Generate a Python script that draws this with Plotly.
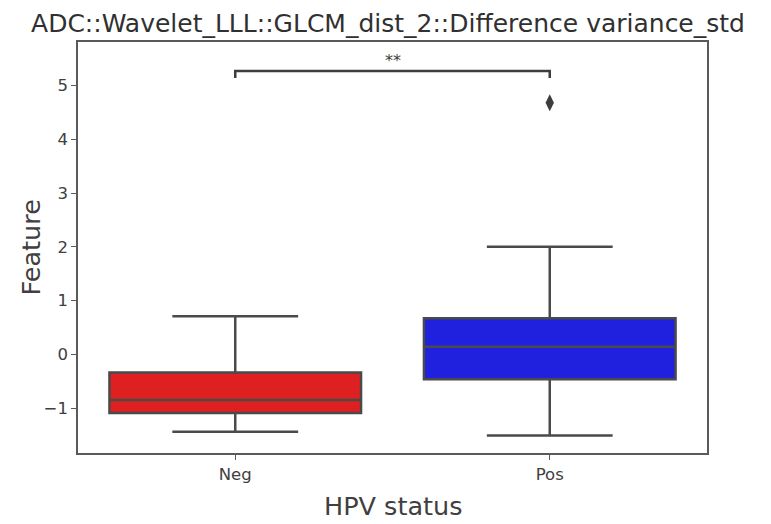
import plotly.graph_objects as go

categories = ["Neg", "Pos"]
q1 = [-1.09, -0.465]
median = [-0.85, 0.14]
q3 = [-0.34, 0.67]
lower_whisker = [-1.44, -1.51]
upper_whisker = [0.71, 2.0]
box_colors = ["#df2020", "#2020df"]
outlier_x = ["Pos"]
outlier_y = [4.68]
bracket_x = ["Neg", "Neg", "Pos", "Pos"]
bracket_y = [5.14, 5.27, 5.27, 5.14]
sig_label = "**"
y_ticks = [-1, 0, 1, 2, 3, 4, 5]

line_col = "#4a4a4a"
font_fam = "DejaVu Sans"

# page body has an 8px margin, so the figure is drawn 8px in from the window edge
OFF = 8
W, H = 771 - OFF, 524 - OFF
L, T = 78 - OFF, 42 - OFF
pw, ph = 629, 411
R, B = W - L - pw, H - T - ph

fig = go.Figure()
for i, c in enumerate(categories):
    fig.add_trace(go.Box(
        x=[c], q1=[q1[i]], median=[median[i]], q3=[q3[i]],
        lowerfence=[lower_whisker[i]], upperfence=[upper_whisker[i]],
        fillcolor=box_colors[i], line=dict(color=line_col, width=2.5),
        width=0.8, whiskerwidth=0.5, boxpoints=False, showlegend=False,
        hoverinfo="skip",
    ))

fig.add_trace(go.Scatter(
    x=outlier_x, y=outlier_y, mode="markers",
    marker=dict(symbol="diamond-tall", size=12, color="#3d3d3d",
                line=dict(width=0)),
    showlegend=False, hoverinfo="skip",
))

fig.add_trace(go.Scatter(
    x=bracket_x, y=bracket_y, mode="lines",
    line=dict(color="#3d3d3d", width=2.5),
    showlegend=False, hoverinfo="skip",
))

fig.add_annotation(x=0.5, y=max(bracket_y), xref="x", yref="y", text=sig_label,
                   showarrow=False, yanchor="bottom", yshift=-1,
                   font=dict(family=font_fam, size=16, color="#3d3d3d"))

# axis titles
fig.add_annotation(x=0.5, y=-53 / ph, xref="paper", yref="paper", text="HPV status",
                   showarrow=False, xanchor="center", yanchor="middle",
                   font=dict(family=font_fam, size=25.5, color="#404040"))
fig.add_annotation(x=-48 / pw, y=0.5, xref="paper", yref="paper", text="Feature",
                   showarrow=False, xanchor="center", yanchor="middle", textangle=-90,
                   font=dict(family=font_fam, size=25.5, color="#404040"))

fig.update_layout(
    width=W, height=H,
    margin=dict(l=L, r=R, t=T, b=B, autoexpand=False),
    paper_bgcolor="white", plot_bgcolor="white",
    font=dict(family=font_fam, color="#404040"),
    title=dict(text="ADC::Wavelet_LLL::GLCM_dist_2::Difference variance_std",
               x=(388 - OFF) / W, xanchor="center", y=1 - (23 - OFF) / H,
               yanchor="middle",
               font=dict(family=font_fam, size=25, color="#303030")),
)

fig.update_xaxes(
    categoryorder="array", categoryarray=categories, automargin=False,
    range=[-0.5, 1.5], showline=True, linecolor="#5a5a5a", linewidth=1.5,
    mirror=True, ticks="outside", ticklen=5, tickcolor="#5a5a5a",
    showgrid=False, zeroline=False,
    tickfont=dict(size=16.5, color="#404040"),
)
fig.update_yaxes(
    range=[-1.836, 5.81], tickvals=y_ticks, automargin=False,
    ticktext=[("\u2212" + str(abs(t))) if t < 0 else str(t) for t in y_ticks],
    showline=True, linecolor="#5a5a5a", linewidth=1.5, mirror=True,
    ticks="outside", ticklen=5, tickcolor="#5a5a5a",
    showgrid=False, zeroline=False,
    tickfont=dict(size=16.5, color="#404040"),
)

fig.write_html("out.html")
